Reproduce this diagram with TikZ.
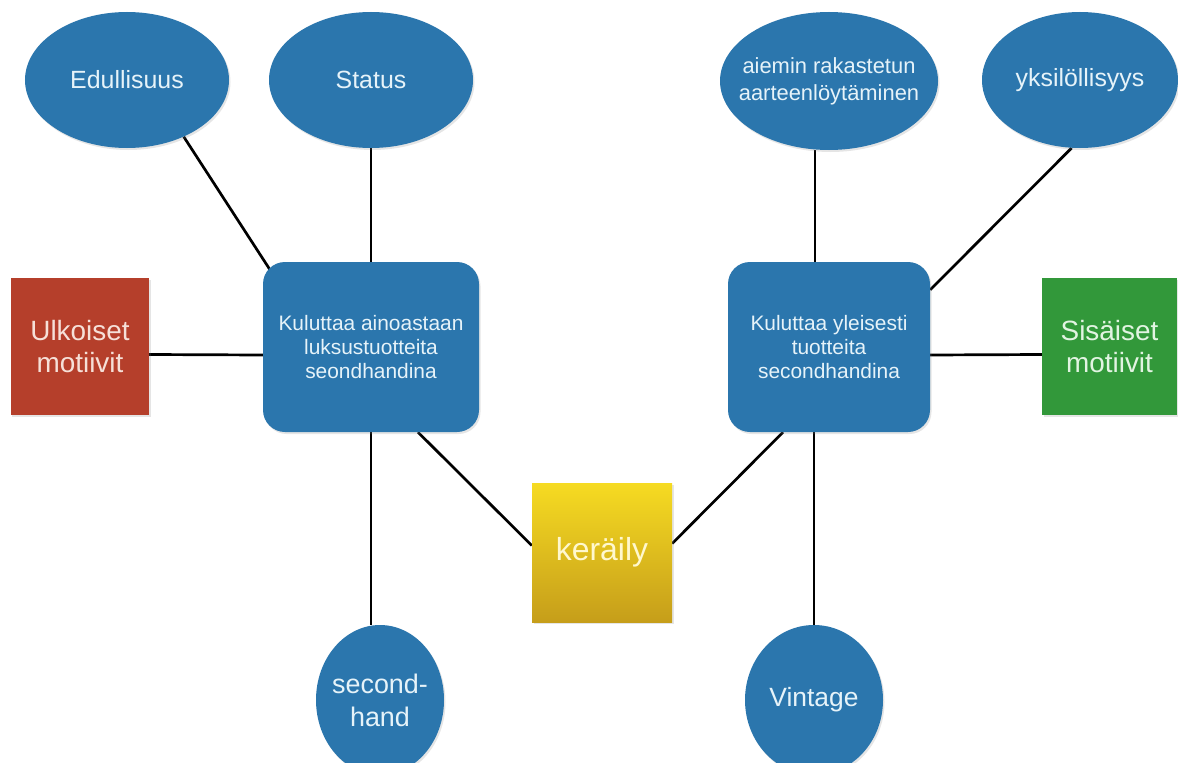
\documentclass[tikz,border=0pt]{standalone}
\usepackage{fontspec}
\setmainfont{Liberation Sans}
\usetikzlibrary{shapes.geometric,shadows,backgrounds,calc}
\definecolor{nblue}{RGB}{43,118,173}
\definecolor{nred}{RGB}{181,63,43}
\definecolor{ngreen}{RGB}{50,152,58}
\definecolor{ytop}{RGB}{246,219,34}
\definecolor{ybot}{RGB}{198,158,26}
\definecolor{tblue}{RGB}{230,243,249}
\definecolor{tred}{RGB}{246,224,216}
\definecolor{tgreen}{RGB}{226,244,226}
\definecolor{tyel}{RGB}{255,248,206}
\begin{document}
\begin{tikzpicture}[x=1bp,y=-1bp,
  sh/.style={drop shadow={shadow xshift=1.5bp,shadow yshift=-2bp,opacity=0.2}},
  bubble/.style={ellipse, fill=nblue, draw=none, inner sep=0pt, sh},
  btxt/.style={text=tblue, align=center},
  roundbox/.style={rectangle, rounded corners=22bp, fill=nblue, text=tblue, align=center,
    inner sep=0pt, sh, font=\fontsize{21}{24.5}\selectfont},
  sqbox/.style={rectangle, inner sep=0pt, align=center, sh, font=\fontsize{28}{33}\selectfont},
  link/.style={line width=2.7bp, black}
]
\useasboundingbox (0,0) rectangle (1178,763);

% ellipses
\node[bubble, minimum width=204bp, minimum height=136bp,
  label={[btxt, font=\fontsize{25}{29}\selectfont]center:Edullisuus}] (edul) at (127,80) {};
\node[bubble, minimum width=204bp, minimum height=136bp,
  label={[btxt, font=\fontsize{25}{29}\selectfont]center:Status}] (status) at (371,80) {};
\node[bubble, minimum width=218bp, minimum height=138bp,
  label={[btxt, font=\fontsize{22}{27}\selectfont]center:aiemin rakastetun\\aarteenlöytäminen}] (aiemin) at (829,81) {};
\node[bubble, minimum width=196bp, minimum height=136bp,
  label={[btxt, font=\fontsize{25}{29}\selectfont]center:yksilöllisyys}] (yks) at (1080,80) {};
\node[bubble, minimum width=128bp, minimum height=150bp,
  label={[btxt, font=\fontsize{27}{33}\selectfont]center:second-\\hand}] (sechand) at (380,700) {};
\node[bubble, minimum width=138bp, minimum height=150bp,
  label={[btxt, font=\fontsize{26.5}{31}\selectfont]center:Vintage}] (vint) at (814,700) {};

% rounded boxes
\node[roundbox, minimum width=216bp, minimum height=170bp] (lbox) at (371,347)
  {Kuluttaa ainoastaan\\luksustuotteita\\seondhandina};
\node[roundbox, minimum width=202bp, minimum height=170bp] (rbox) at (829,347)
  {Kuluttaa yleisesti\\tuotteita\\secondhandina};

% squares
\node[sqbox, fill=nred, text=tred, minimum width=138bp, minimum height=137bp] (ulk) at (80,346.5)
  {Ulkoiset\\motiivit};
\node[sqbox, fill=ngreen, text=tgreen, minimum width=135bp, minimum height=137bp] (sis) at (1109.5,346.5)
  {Sisäiset\\motiivit};
\node[sqbox, top color=ytop, bottom color=ybot, text=tyel, minimum width=140bp, minimum height=139bp,
  font=\fontsize{32}{36}\selectfont] (ker) at (602,552.5) {keräily};

\begin{pgfonlayer}{background}
\fill[white] (0,0) rectangle (1178,763);
\draw[link] (edul.-45) -- ($(lbox.north west)+(15,20)$);
\draw[link] (status.south) -- (lbox.north);
\draw[link] ([yshift=-8bp]ulk.east) -- ([yshift=-8bp]lbox.west);
\draw[link] (lbox.south) -- (lbox.south |- sechand.north);
\draw[link] ([xshift=47bp]lbox.south) -- ([yshift=7bp]ker.west);
\draw[link] ([xshift=-46bp]rbox.south) -- ([yshift=9bp]ker.east);
\draw[link] (vint.north |- rbox.south) -- (vint.north);
\draw[link] ([xshift=-14bp]aiemin.south) -- ([xshift=-14bp]rbox.north);
\draw[link] (yks.-97) -- ([yshift=-28bp]rbox.north east);
\draw[link] ([yshift=-8bp]rbox.east) -- ([yshift=-8bp]sis.west);
\end{pgfonlayer}
\end{tikzpicture}
\end{document}
